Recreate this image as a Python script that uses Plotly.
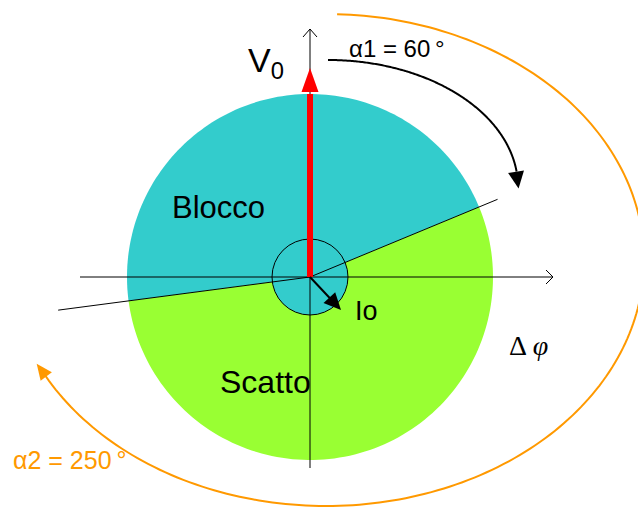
import numpy as np
import plotly.graph_objects as go

# ---- diagram values (pixel-like coordinates, y downwards) ----
center = [310, 277]
radius = 183
inner_radius = 38
boundary_angles = [22.5, 187.5]          # cyan sector from / to (deg, ccw, y up)
ray_lengths = [203, 254]                 # right ray, left ray
axis_h = [80, 553]                       # horizontal axis x-extent
axis_v = [468, 29]                       # vertical axis y-extent (bottom, top)
v0_tip = 68
io_tip = [341, 310]
region_labels = ["Blocco", "Scatto"]
region_colors = ["#33CCCC", "#99FF33"]
arc1 = dict(cx=328, cy=187, a=190, b=127, t0=90, t1=7)
arc2 = dict(cx=326, cy=260, a=318, b=246, t0=88, t1=-153)
alpha_labels = ["α1 = 60\u2009°", "α2 = 250\u2009°"]
orange = "#FF9900"

cx, cy = center


def pt(ang, r):
    a = np.radians(ang)
    return cx + r * np.cos(a), cy - r * np.sin(a)


def path_from(xs, ys, close=False):
    s = "M %.2f %.2f " % (xs[0], ys[0]) + " ".join("L %.2f %.2f" % (x, y) for x, y in zip(xs[1:], ys[1:]))
    return s + (" Z" if close else "")


def sector(a0, a1, r):
    angs = np.linspace(a0, a1, 120)
    xs = [cx] + [pt(a, r)[0] for a in angs]
    ys = [cy] + [pt(a, r)[1] for a in angs]
    return path_from(xs, ys, True)


def ellipse_arc(d, n=200):
    t = np.radians(np.linspace(d["t0"], d["t1"], n))
    return d["cx"] + d["a"] * np.cos(t), d["cy"] - d["b"] * np.sin(t)


def head(tip, direction, length, half_w):
    ux, uy = direction / np.linalg.norm(direction)
    bx, by = tip[0] - ux * length, tip[1] - uy * length
    px, py = -uy, ux
    return path_from([tip[0], bx + px * half_w, bx - px * half_w], [tip[1], by + py * half_w, by - py * half_w], True)


shapes = []
# sectors
shapes.append(dict(type="path", path=sector(boundary_angles[0], boundary_angles[1], radius),
                   fillcolor=region_colors[0], line=dict(width=0), layer="below"))
shapes.append(dict(type="path", path=sector(boundary_angles[1], boundary_angles[0] + 360, radius),
                   fillcolor=region_colors[1], line=dict(width=0), layer="below"))
# inner circle
shapes.append(dict(type="circle", x0=cx - inner_radius, x1=cx + inner_radius, y0=cy - inner_radius,
                   y1=cy + inner_radius, fillcolor=region_colors[0], line=dict(color="black", width=1)))
# axes
shapes.append(dict(type="line", x0=axis_h[0], x1=axis_h[1], y0=cy, y1=cy, line=dict(color="black", width=1)))
shapes.append(dict(type="line", x0=cx, x1=cx, y0=axis_v[0], y1=axis_v[1], line=dict(color="black", width=1)))
shapes.append(dict(type="path", path=path_from([axis_h[1] - 7, axis_h[1], axis_h[1] - 7], [cy - 7, cy, cy + 7]),
                   line=dict(color="black", width=1)))
shapes.append(dict(type="path", path=path_from([cx - 7, cx, cx + 7], [axis_v[1] + 8, axis_v[1], axis_v[1] + 8]),
                   line=dict(color="black", width=1)))
# boundary rays
for ang, ln in zip(boundary_angles, ray_lengths):
    x1, y1 = pt(ang, ln)
    shapes.append(dict(type="line", x0=cx, y0=cy, x1=x1, y1=y1, line=dict(color="black", width=1)))
# V0 red arrow
shapes.append(dict(type="line", x0=cx, x1=cx, y0=cy, y1=v0_tip + 26, line=dict(color="#FF0000", width=6)))
shapes.append(dict(type="path", path=head([cx, v0_tip], np.array([0.0, -1.0]), 24, 8.5),
                   fillcolor="#FF0000", line=dict(width=0)))
# Io arrow
d_io = np.array([io_tip[0] - cx, io_tip[1] - cy], float)
ui = d_io / np.linalg.norm(d_io)
shapes.append(dict(type="line", x0=cx, y0=cy, x1=io_tip[0] - ui[0] * 10, y1=io_tip[1] - ui[1] * 10,
                   line=dict(color="black", width=2)))
shapes.append(dict(type="path", path=head(io_tip, d_io, 17, 8), fillcolor="black", line=dict(width=0)))
# black arc alpha1
xs, ys = ellipse_arc(arc1)
shapes.append(dict(type="path", path=path_from(xs, ys), line=dict(color="black", width=2)))
tip1 = np.array([xs[-1] + 2, ys[-1] + 17])
shapes.append(dict(type="path", path=head(tip1, np.array([0.15, 1.0]), 17, 8), fillcolor="black", line=dict(width=0)))
# orange arc alpha2
xs2, ys2 = ellipse_arc(arc2)
shapes.append(dict(type="path", path=path_from(xs2, ys2), line=dict(color=orange, width=2)))
dir2 = np.array([xs2[-1] - xs2[-6], ys2[-1] - ys2[-6]])
tip2 = np.array([xs2[-1], ys2[-1]]) + dir2 / np.linalg.norm(dir2) * 10
shapes.append(dict(type="path", path=head(tip2, dir2, 16, 7), fillcolor=orange, line=dict(width=0)))

font = "Liberation Sans, Arial, sans-serif"
ann = [
    dict(x=266, y=62, text="V<sub>0</sub>", font=dict(size=34, family=font, color="black")),
    dict(x=397, y=48, text=alpha_labels[0], font=dict(size=24, family=font, color="black")),
    dict(x=218, y=207, text=region_labels[0], font=dict(size=31, family=font, color="black")),
    dict(x=265, y=382, text=region_labels[1], font=dict(size=32, family=font, color="black")),
    dict(x=366, y=311, text="Io", font=dict(size=27, family=font, color="black")),
    dict(x=528, y=345, text="Δ\u2009<i>φ</i>", font=dict(size=28, family="Liberation Serif, Times New Roman, serif", color="black")),
    dict(x=70, y=460, text=alpha_labels[1], font=dict(size=25, family=font, color=orange)),
]
for a in ann:
    a.update(xref="x", yref="y", showarrow=False, xanchor="center", yanchor="middle")

fig = go.Figure()
fig.update_layout(width=638, height=507, margin=dict(l=0, r=0, t=0, b=0), paper_bgcolor="white",
                  plot_bgcolor="white", shapes=shapes, annotations=ann, showlegend=False,
                  xaxis=dict(range=[0, 638], visible=False, fixedrange=True),
                  yaxis=dict(range=[507, 0], visible=False, fixedrange=True))
fig.write_html("out.html", config={"displayModeBar": False},
               post_script="document.body.style.margin='0';document.body.style.overflow='hidden';")
